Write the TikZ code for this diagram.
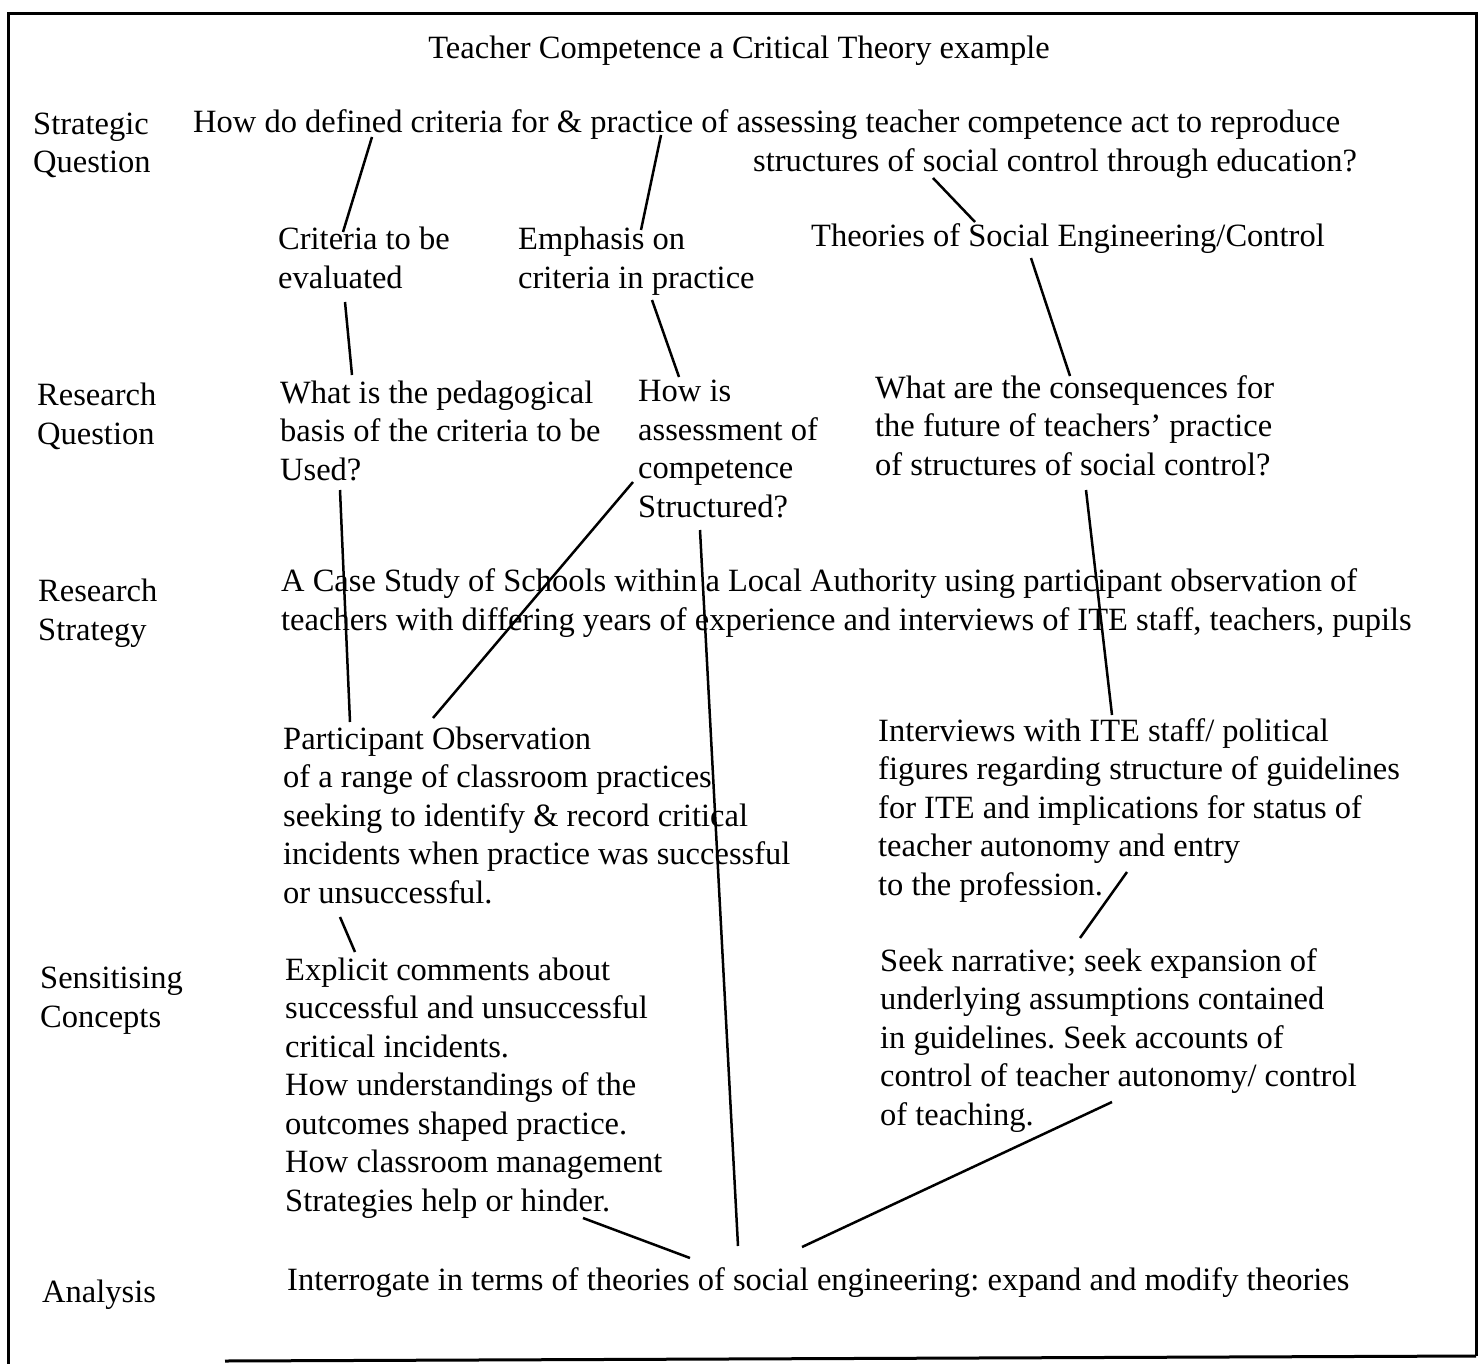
\documentclass[tikz,border=0pt]{standalone}
\usepackage{fontspec}
\setmainfont{Liberation Serif}
\usetikzlibrary{calc}
\frenchspacing
\tikzstyle{txt} = [anchor=base west, align=left, inner sep=0pt, font=\fontsize{32.5}{38.5}\selectfont]
\tikzstyle{link} = [line width = 2.5pt, black]

\begin{document}
\begin{tikzpicture} [x=1pt, y=-1pt]

						\useasboundingbox (0,0) rectangle (1480, 1364);

						% frame
						\draw[line width = 3pt] (8,1364) -- (8,14) -- (1476,14) -- (1476,1356);
						\draw[line width = 3pt] (225,1361) -- (1476,1356);

						\node[txt, anchor=base] (title) at (739, 59) {Teacher Competence a Critical Theory example};

						% left column (base = last line)
						\node[txt] (L1) at (33, 173) {Strategic\\Question};
						\node[txt] (L2) at (37, 444) {Research\\Question};
						\node[txt] (L3) at (38, 640) {Research\\Strategy};
						\node[txt] (L4) at (40, 1027) {Sensitising\\Concepts};
						\node[txt] (L5) at (42, 1302) {Analysis};

						% strategic question
						\node[txt] (SQa) at (193, 133) {How do defined criteria for \& practice of assessing teacher competence act to reproduce};
						\node[txt] (SQb) at (753, 172) {structures of social control through education?};

						\node[txt] (crit) at (278, 288) {Criteria to be\\evaluated};
						\node[txt] (emph) at (518, 288) {Emphasis on\\criteria in practice};
						\node[txt] (theo) at (811, 247) {Theories of Social Engineering/Control};

						% research questions
						\node[txt] (RQ1) at (280, 480) {What is the pedagogical\\basis of the criteria to be\\Used?};
						\node[txt] (RQ2) at (638, 517) {How is\\assessment of\\competence\\Structured?};
						\node[txt] (RQ3) at (875, 475) {What are the consequences for\\the future of teachers' practice\\of structures of social control?};

						% strategy
						\node[txt] (RS) at (281, 630) {A Case Study of Schools within a Local Authority using participant observation of\\teachers with differing years of experience and interviews of ITE staff, teachers, pupils};

						\node[txt] (PO) at (283, 903) {Participant Observation\\of a range of classroom practices\\seeking to identify \& record critical\\incidents when practice was successful\\or unsuccessful.};
						\node[txt] (IV) at (878, 895) {Interviews with ITE staff/ political\\figures regarding structure of guidelines\\for ITE and implications for status of\\teacher autonomy and entry\\to the profession.};

						% sensitising concepts
						\node[txt] (SC1) at (285, 1211) {Explicit comments about\\successful and unsuccessful\\critical incidents.\\How understandings of the\\outcomes shaped practice.\\How classroom management\\Strategies help or hinder.};
						\node[txt] (SC2) at (880, 1125) {Seek narrative; seek expansion of\\underlying assumptions contained\\in guidelines. Seek accounts of\\control of teacher autonomy/ control\\of teaching.};

						\node[txt] (AN) at (287, 1290) {Interrogate in terms of theories of social engineering: expand and modify theories};

						% link ends
						\coordinate (A1) at (372, 137);
						\coordinate (A2) at (343, 232);
						\coordinate (B1) at (661, 135);
						\coordinate (B2) at (641, 230);
						\coordinate (C1) at (933, 178);
						\coordinate (C2) at (975, 222);
						\coordinate (D1) at (345, 302);
						\coordinate (D2) at (352, 375);
						\coordinate (E1) at (652, 300);
						\coordinate (E2) at (679, 377);
						\coordinate (F1) at (1031, 258);
						\coordinate (F2) at (1070, 376);
						\coordinate (G1) at (340, 490);
						\coordinate (G2) at (350, 722);
						\coordinate (H1) at (633, 482);
						\coordinate (H2) at (433, 718);
						\coordinate (I1) at (1086, 490);
						\coordinate (I2) at (1112, 715);
						\coordinate (J1) at (700, 530);
						\coordinate (J2) at (738, 1246);
						\coordinate (K1) at (1127, 872);
						\coordinate (K2) at (1080, 938);
						\coordinate (M1) at (340, 917);
						\coordinate (M2) at (355, 952);
						\coordinate (N1) at (583, 1218);
						\coordinate (N2) at (690, 1258);
						\coordinate (P1) at (1112, 1102);
						\coordinate (P2) at (802, 1247);

						\draw[link] (A1) -- (A2);
						\draw[link] (B1) -- (B2);
						\draw[link] (C1) -- (C2);
						\draw[link] (D1) -- (D2);
						\draw[link] (E1) -- (E2);
						\draw[link] (F1) -- (F2);
						\draw[link] (G1) -- (G2);
						\draw[link] (H1) -- (H2);
						\draw[link] (I1) -- (I2);
						\draw[link] (J1) -- (J2);
						\draw[link] (K1) -- (K2);
						\draw[link] (M1) -- (M2);
						\draw[link] (N1) -- (N2);
						\draw[link] (P1) -- (P2);

					\end{tikzpicture}
\end{document}
